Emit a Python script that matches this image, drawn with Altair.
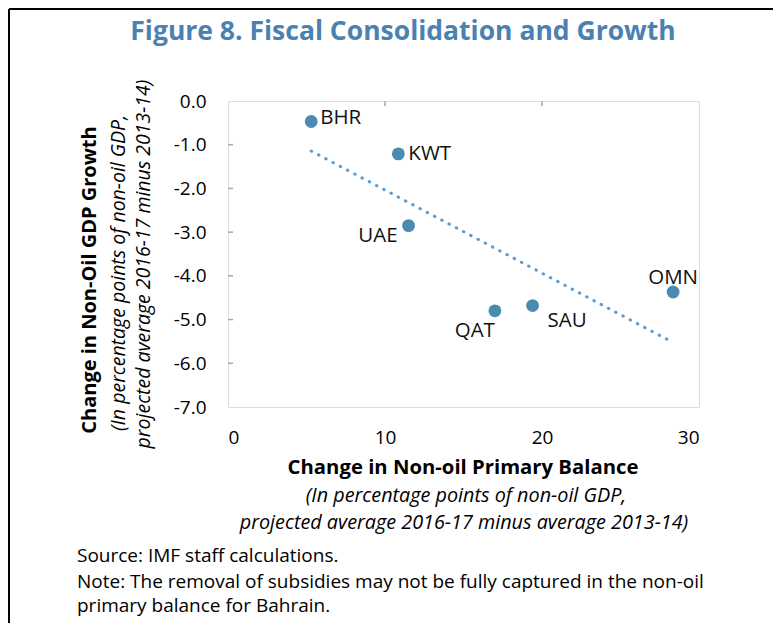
import altair as alt
import pandas as pd

countries = ["BHR", "KWT", "UAE", "QAT", "SAU", "OMN"]
primary_balance = [5.3, 10.85, 11.5, 17.0, 19.4, 28.35]
growth = [-0.47, -1.21, -2.85, -4.80, -4.68, -4.37]

x_ticks = [0, 10, 20, 30]
y_ticks = [0.0, -1.0, -2.0, -3.0, -4.0, -5.0, -6.0, -7.0]
inner_x_ticks = [10, 20]
inner_y_ticks = [-1.0, -2.0, -3.0, -4.0, -5.0, -6.0]

title_text = "Figure 8. Fiscal Consolidation and Growth"
y_title = "Change in Non-Oil GDP Growth"
y_sub1 = "(In percentage points of non-oil GDP,"
y_sub2 = "projected average 2016-17 minus 2013-14)"
x_title = "Change in Non-oil Primary Balance"
x_sub1 = "(In percentage points of non-oil GDP,"
x_sub2 = "projected average 2016-17 minus average 2013-14)"
notes = [
    "Source: IMF staff calculations.",
    "Note: The removal of subsidies may not be fully captured in the non-oil",
    "primary balance for Bahrain.",
]

df = pd.DataFrame({"country": countries, "x": primary_balance, "y": growth})

FONT = "Open Sans"
W, H = 471, 306
GRAY = "#A6A6A6"
PT = "#4B8BB1"

xs = alt.Scale(domain=[0, 30], nice=False)
ys = alt.Scale(domain=[-7, 0], nice=False)

base = alt.Chart(df)

points = base.mark_circle(size=165, color=PT, opacity=1).encode(
    x=alt.X("x:Q", scale=xs,
            axis=alt.Axis(values=x_ticks, title=None, grid=False, domain=False, ticks=False,
                          labelFont=FONT, labelFontSize=19, labelColor="#000",
                          labelPadding=30, labelBaseline="middle")),
    y=alt.Y("y:Q", scale=ys,
            axis=alt.Axis(values=y_ticks, title=None, grid=False, domain=False, ticks=False,
                          labelExpr="replace(format(datum.value, '.1f'), '\u2212', '-')",
                          labelFont=FONT, labelFontSize=19, labelColor="#000",
                          labelPadding=22)),
)

trend = base.transform_regression("x", "y").mark_line(
    color="#5B9BD5", strokeWidth=3, strokeDash=[0.5, 7.7], strokeCap="round"
).encode(x=alt.X("x:Q", scale=xs), y=alt.Y("y:Q", scale=ys))

label_style = {
    "BHR": dict(align="left", baseline="middle", dx=9, dy=-4),
    "KWT": dict(align="left", baseline="middle", dx=10, dy=0),
    "UAE": dict(align="right", baseline="middle", dx=-11, dy=10),
    "QAT": dict(align="right", baseline="middle", dx=0, dy=20),
    "SAU": dict(align="left", baseline="middle", dx=15, dy=15),
    "OMN": dict(align="center", baseline="middle", dx=0, dy=-14),
}
labels = []
for c in countries:
    labels.append(
        base.transform_filter(alt.datum.country == c).mark_text(
            font=FONT, fontSize=20.5, color="#111", **label_style[c]
        ).encode(x=alt.X("x:Q", scale=xs), y=alt.Y("y:Q", scale=ys), text="country:N")
    )

tickdf = pd.DataFrame({"v": inner_y_ticks})
ytickrules = alt.Chart(tickdf).mark_rule(color=GRAY, strokeWidth=1.5).encode(
    y=alt.Y("v:Q", scale=ys), x=alt.value(0), x2=alt.value(5))
xtickdf = pd.DataFrame({"v": inner_x_ticks})
xtickrules = alt.Chart(xtickdf).mark_rule(color=GRAY, strokeWidth=1.5).encode(
    x=alt.X("v:Q", scale=xs), y=alt.value(0), y2=alt.value(5))

def txt(t, x, y, size, weight="normal", style="normal", align="center", angle=0, color="#000"):
    return alt.Chart(pd.DataFrame({"t": [t]})).mark_text(
        font=FONT, fontSize=size, fontWeight=weight, fontStyle=style, align=align,
        baseline="middle", angle=angle, color=color
    ).encode(text="t:N", x=alt.value(x), y=alt.value(y))

texts = [
    txt(title_text, 175, -69, 26.5, weight="bold", color="#4B81B0"),
    txt(y_title, -138, 179, 20, weight="bold", angle=270),
    txt(y_sub1, -109, 172, 19.5, style="italic", angle=270),
    txt(y_sub2, -84, 163, 19.5, style="italic", angle=270),
    txt(x_title, 235, 367, 20.3, weight="bold"),
    txt(x_sub1, 238, 395, 19.8, style="italic"),
    txt(x_sub2, 236, 422, 19.8, style="italic"),
    txt(notes[0], -151, 455, 19, align="left"),
    txt(notes[1], -151, 481, 19, align="left"),
    txt(notes[2], -151, 505, 19, align="left"),
]

border_top = alt.Chart(pd.DataFrame({"a": [0]})).mark_rule(color="#000", strokeWidth=2).encode(
    x=alt.value(-219), x2=alt.value(560), y=alt.value(-92))
border_left = alt.Chart(pd.DataFrame({"a": [0]})).mark_rule(color="#000", strokeWidth=2).encode(
    x=alt.value(-219), y=alt.value(-92), y2=alt.value(530))

chart = alt.layer(
    ytickrules, xtickrules, trend, points, *labels, *texts, border_top, border_left
).properties(
    width=W, height=H,
    autosize=alt.AutoSizeParams(type="none"),
    padding={"left": 220, "top": 93, "right": 74, "bottom": 216},
).configure_view(stroke=GRAY, strokeWidth=2).configure(background="white")

chart.save("out.html", embed_options={"renderer": "svg", "actions": False})
